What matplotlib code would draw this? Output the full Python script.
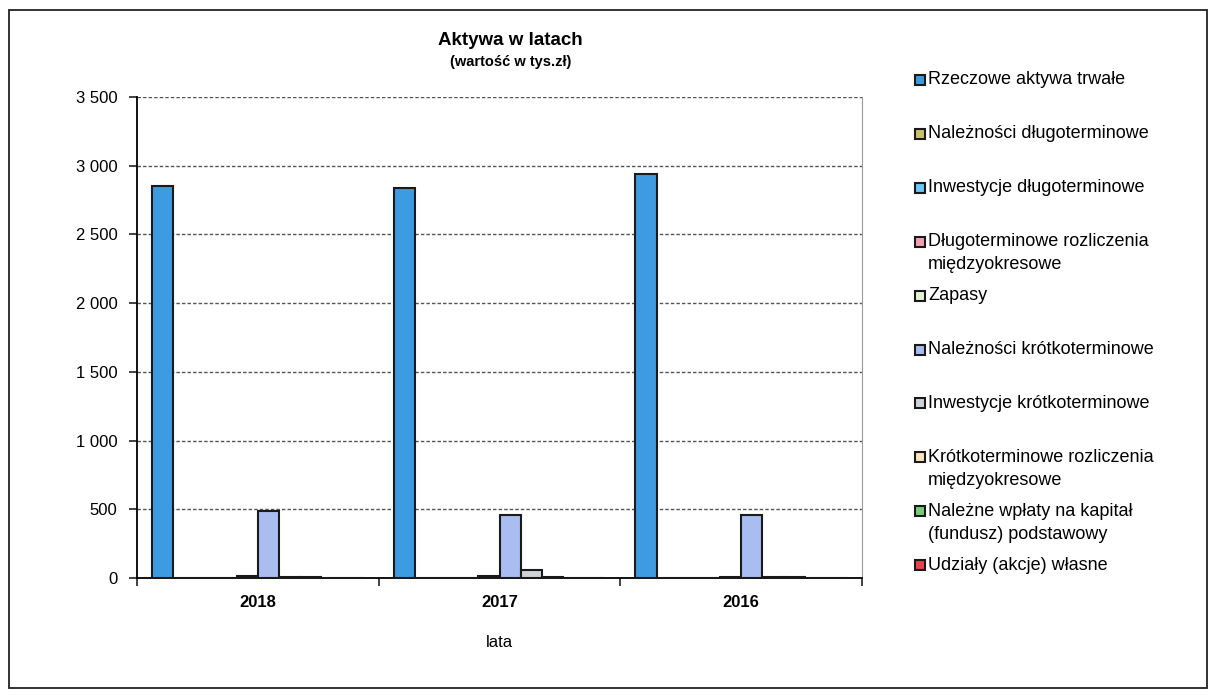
import matplotlib
matplotlib.use("Agg")
import matplotlib.pyplot as plt
from matplotlib.patches import Rectangle
from matplotlib.ticker import FuncFormatter, MultipleLocator, FixedLocator

plt.rcParams['font.family'] = ['Liberation Sans', 'DejaVu Sans']

years = ['2018', '2017', '2016']

series_names = [
    'Rzeczowe aktywa trwałe',
    'Należności długoterminowe',
    'Inwestycje długoterminowe',
    'Długoterminowe rozliczenia\nmiędzyokresowe',
    'Zapasy',
    'Należności krótkoterminowe',
    'Inwestycje krótkoterminowe',
    'Krótkoterminowe rozliczenia\nmiędzyokresowe',
    'Należne wpłaty na kapitał\n(fundusz) podstawowy',
    'Udziały (akcje) własne',
]

rzeczowe_aktywa = [2850, 2840, 2940]
naleznosci_dlugo = [0, 0, 0]
inwestycje_dlugo = [0, 0, 0]
rozliczenia_dlugo = [0, 0, 0]
zapasy = [15, 15, 10]
naleznosci_krotko = [485, 455, 455]
inwestycje_krotko = [8, 60, 8]
rozliczenia_krotko = [5, 8, 5]
nalezne_wplaty = [0, 0, 0]
udzialy_wlasne = [0, 0, 0]

series_values = [rzeczowe_aktywa, naleznosci_dlugo, inwestycje_dlugo,
                 rozliczenia_dlugo, zapasy, naleznosci_krotko,
                 inwestycje_krotko, rozliczenia_krotko, nalezne_wplaty,
                 udzialy_wlasne]

colors = ['#3d9be2', '#c9c26a', '#6cc8f4', '#f4a0b0', '#e4f1d8',
          '#a9bdf0', '#cfd3d6', '#fbe4c0', '#7acb7a', '#e8404e']

fig = plt.figure(figsize=(12.16, 6.96), dpi=100)
ax = fig.add_axes([0.1127, 0.1695, 0.5962, 0.6911])

n = len(series_values)
bar_w = 0.0876
for i, (vals, col) in enumerate(zip(series_values, colors)):
    xs = [c - n * bar_w / 2 + (i + 0.5) * bar_w for c in range(len(years))]
    ax.bar(xs, vals, width=bar_w, color=col, edgecolor='#1a1a1a',
           linewidth=1.5, zorder=3)

ax.set_xlim(-0.5, len(years) - 0.5)
ax.set_ylim(0, 3500)
ax.yaxis.set_major_locator(MultipleLocator(500))
ax.yaxis.set_major_formatter(FuncFormatter(lambda v, p: f"{int(v):,}".replace(',', ' ')))
ax.grid(axis='y', linestyle=(0, (2.5, 1.5)), color='#555555', linewidth=1.0, zorder=1)

ax.set_xticks(range(len(years)))
ax.set_xticklabels(years, fontsize=12, fontweight='bold')
ax.tick_params(axis='x', which='major', length=0, pad=12)
ax.xaxis.set_minor_locator(FixedLocator([-0.5, 0.5, 1.5, 2.5]))
ax.tick_params(axis='x', which='minor', length=6, width=1.2, color='#222222')
ax.tick_params(axis='y', length=6, width=1.2, labelsize=12, pad=8, color='#222222')

for side in ['top']:
    ax.spines[side].set_visible(False)
ax.spines['right'].set_color('#999999')
ax.spines['left'].set_linewidth(1.3)
ax.spines['bottom'].set_linewidth(1.3)

ax.set_xlabel('lata', fontsize=12, labelpad=18)

fig.text(0.42, 0.942, 'Aktywa w latach', fontsize=13.5, fontweight='bold',
         ha='center', va='center')
fig.text(0.42, 0.911, '(wartość w tys.zł)', fontsize=10.5, fontweight='bold',
         ha='center', va='center')

# legend drawn as evenly spaced entries
leg_x = 915 / 1216
sq = 10
y0, step = 80, 53.9
for i, (name, col) in enumerate(zip(series_names, colors)):
    yc = y0 + i * step
    fig.patches.append(Rectangle((leg_x, 1 - (yc + sq / 2) / 696), sq / 1216, sq / 696,
                                 transform=fig.transFigure, facecolor=col,
                                 edgecolor='#1a1a1a', linewidth=1.5))
    for j, line in enumerate(name.split('\n')):
        fig.text(928 / 1216, 1 - (yc + j * 23) / 696, line, fontsize=13,
                 ha='left', va='center')

fig.patches.append(Rectangle((0.007, 0.012), 0.986, 0.974, transform=fig.transFigure,
                             facecolor='none', edgecolor='#222222', linewidth=1.3))

fig.savefig('out.png', dpi=100)
